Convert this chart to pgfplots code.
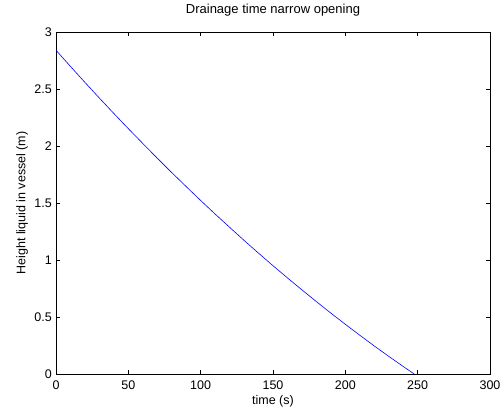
\documentclass[border=0pt]{standalone}
\usepackage{pgfplots}
\pgfplotsset{compat=1.18}
\usepackage{fontspec}
\setmainfont{Liberation Sans}
\begin{document}
\fontsize{12}{14}\selectfont
\begin{tikzpicture}
\begin{axis}[
  scale only axis,
  width=434pt, height=342pt,
  xmin=0, xmax=300, ymin=0, ymax=3,
  xtick={0,50,100,150,200,250,300},
  ytick={0,0.5,1,1.5,2,2.5,3},
  tick align=inside,
  major tick length=4pt,
  tick style={black, line width=0.5pt},
  axis line style={black, line width=0.8pt},
  /pgf/number format/assume math mode=true,
  /pgf/number format/fixed,
  ticklabel style={font=\fontsize{12.5}{14}\selectfont},
  xticklabel style={anchor=base, yshift=-15.3pt},
  yticklabel style={anchor=east, inner sep=0pt, xshift=-4pt},
  title={Drainage time narrow opening},
  title style={font=\fontsize{13}{15}\selectfont, at={(axis description cs:0.5,1)}, anchor=base, yshift=12.4pt},
  xlabel={time (s)},
  xlabel style={font=\fontsize{12.5}{14}\selectfont, at={(axis description cs:0.5,0)}, anchor=base, yshift=-30pt},
  ylabel={Height liquid in vessel (m)},
  ylabel style={font=\fontsize{12.5}{14}\selectfont, at={(axis description cs:-0.0705,0.5)}, anchor=base},
]
\addplot[blue, line width=0.6pt] coordinates {
(0,2.840) (10,2.698) (20,2.558) (30,2.420) (40,2.285) (50,2.152)
(60,2.022) (70,1.893) (80,1.767) (90,1.644) (100,1.522) (110,1.403)
(120,1.287) (130,1.172) (140,1.060) (150,0.950) (160,0.843) (170,0.738)
(180,0.635) (190,0.534) (200,0.436) (210,0.340) (220,0.246) (230,0.155)
(240,0.066) (247.6,0)
};
\coordinate (ll) at (axis description cs:0,0);
\coordinate (ur) at (axis description cs:1,1);
\end{axis}
\pgfresetboundingbox
\path ([shift={(-56pt,-33pt)}]ll) rectangle ([shift={(10pt,32pt)}]ur);
\end{tikzpicture}
\end{document}
